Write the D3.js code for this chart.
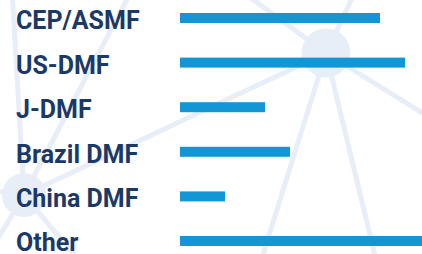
<!DOCTYPE html>
<html>
<head>
<meta charset="utf-8">
<script src="https://cdn.jsdelivr.net/npm/d3@7"></script>
<style>
  html, body { margin: 0; padding: 0; background: #ffffff; }
  svg { display: block; }
</style>
</head>
<body>
<svg id="chart" width="422" height="254"></svg>
<script>
const categories = ["CEP/ASMF", "US-DMF", "J-DMF", "Brazil DMF", "China DMF", "Other"];
const values = [40, 45, 17, 22, 9, 50];

// decorative network background (nodes and edges)
const bgNodes = [
  { id: "hub", x: 326, y: 53, r: 24.5 },
  { id: "small", x: 24, y: 195, r: 22 }
];
const bgEdges = [
  [326, 53, 240, -10],
  [326, 53, 356, -10],
  [326, 53, 440, 124],
  [326, 53, 260, 264],
  [326, 53, 377, 264],
  [326, 53, 24, 195],
  [24, 195, 12, -10],
  [24, 195, 132, -10],
  [24, 195, -10, 190],
  [24, 195, -10, 252],
  [24, 195, 82, 264]
];

const W = 422, H = 254;
const svg = d3.select("#chart");

const bg = svg.append("g").attr("class", "background");
bg.selectAll("line").data(bgEdges).join("line")
  .attr("x1", d => d[0]).attr("y1", d => d[1])
  .attr("x2", d => d[2]).attr("y2", d => d[3])
  .attr("stroke", "#e8eef8").attr("stroke-width", 5);
bg.selectAll("circle").data(bgNodes).join("circle")
  .attr("cx", d => d.x).attr("cy", d => d.y).attr("r", d => d.r)
  .attr("fill", "#e8eef8");

const x = d3.scaleLinear().domain([0, 50]).range([180, 430]);
const y = d3.scalePoint().domain(categories).range([18, 241]);
const barH = 10;

svg.append("g").selectAll("rect").data(categories).join("rect")
  .attr("x", x(0))
  .attr("y", d => y(d) - barH / 2)
  .attr("width", (d, i) => x(values[i]) - x(0))
  .attr("height", barH)
  .attr("fill", "#1396d6");

svg.append("g").selectAll("text").data(categories).join("text")
  .attr("x", 16)
  .attr("y", d => Math.min(y(d) + 11, 251))
  .attr("font-family", "Roboto, 'Noto Sans', sans-serif")
  .attr("font-weight", 700)
  .attr("font-size", 25)
  .attr("fill", "#1b3966")
  .text(d => d);
</script>
</body>
</html>
